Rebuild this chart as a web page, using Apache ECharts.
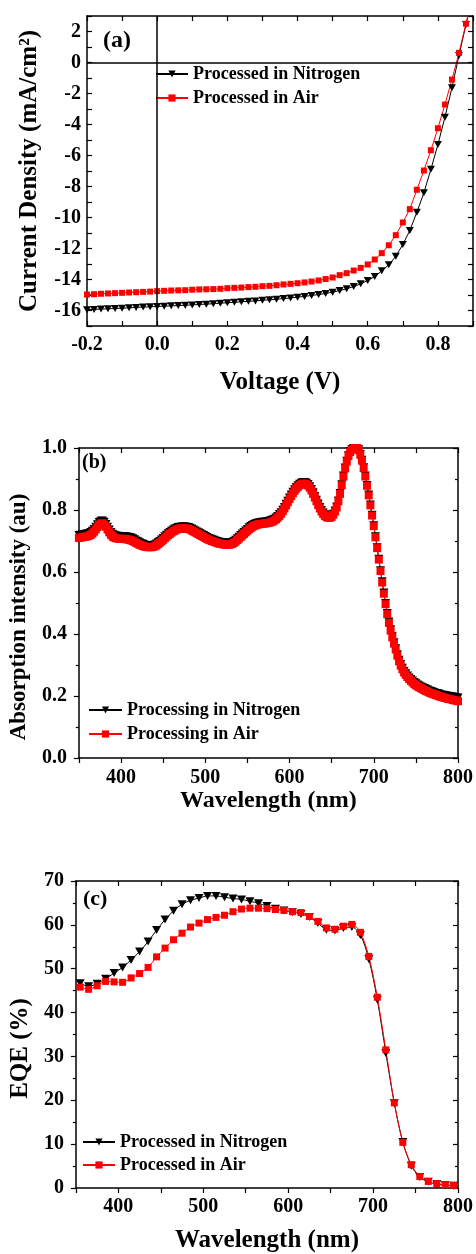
<!DOCTYPE html>
<html>
<head>
<meta charset="utf-8">
<title>Device characteristics</title>
<script src="https://cdn.jsdelivr.net/npm/echarts@6.0.0/dist/echarts.min.js"></script>
<style>
  html, body { margin: 0; padding: 0; background: #fff; }
  #chart { width: 476px; height: 1254px; }
</style>
</head>
<body>
<div id="chart"></div>
<script>
// (a) J-V curves
const voltage = [
  -0.20, -0.18, -0.16, -0.14, -0.12, -0.10, -0.08, -0.06, -0.04, -0.02,
  0.00, 0.02, 0.04, 0.06, 0.08, 0.10, 0.12, 0.14, 0.16, 0.18,
  0.20, 0.22, 0.24, 0.26, 0.28, 0.30, 0.32, 0.34, 0.36, 0.38,
  0.40, 0.42, 0.44, 0.46, 0.48, 0.50, 0.52, 0.54, 0.56, 0.58,
  0.60, 0.62, 0.64, 0.66, 0.68, 0.70, 0.72, 0.74, 0.76, 0.78,
  0.80, 0.82, 0.84, 0.86, 0.88, 0.90
];
const jvNitrogen = [
  -15.95, -15.93, -15.91, -15.89, -15.87, -15.85, -15.83, -15.80, -15.78, -15.76,
  -15.74, -15.72, -15.70, -15.68, -15.66, -15.64, -15.61, -15.59, -15.56, -15.53,
  -15.50, -15.47, -15.44, -15.41, -15.38, -15.34, -15.31, -15.27, -15.23, -15.19,
  -15.14, -15.09, -15.03, -14.97, -14.90, -14.82, -14.71, -14.60, -14.45, -14.28,
  -14.06, -13.81, -13.44, -13.05, -12.50, -11.74, -10.84, -9.66, -8.41, -6.89,
  -5.29, -3.53, -1.63, 0.45, 2.45, 4.45
];
const jvAir = [
  -14.97, -14.95, -14.92, -14.90, -14.88, -14.86, -14.84, -14.82, -14.80, -14.78,
  -14.75, -14.73, -14.71, -14.70, -14.69, -14.66, -14.64, -14.63, -14.62, -14.60,
  -14.56, -14.54, -14.52, -14.49, -14.47, -14.43, -14.41, -14.37, -14.32, -14.28,
  -14.24, -14.19, -14.13, -14.06, -13.97, -13.87, -13.72, -13.59, -13.42, -13.25,
  -13.03, -12.71, -12.30, -11.79, -11.14, -10.32, -9.46, -8.21, -6.97, -5.66,
  -4.24, -2.71, -1.10, 0.62, 2.50, 4.40
];

// (b) absorption, sampled every 2 nm from 350 nm
const absStart = 350, absStep = 2;
const absNitrogen = [
  0.719, 0.720, 0.721, 0.722, 0.723, 0.724, 0.726, 0.729, 0.733, 0.739,
  0.746, 0.754, 0.761, 0.765, 0.766, 0.762, 0.755, 0.746, 0.737, 0.729,
  0.723, 0.720, 0.718, 0.717, 0.716, 0.716, 0.716, 0.715, 0.715, 0.714,
  0.713, 0.711, 0.709, 0.706, 0.702, 0.699, 0.696, 0.693, 0.691, 0.689,
  0.687, 0.686, 0.686, 0.686, 0.687, 0.689, 0.692, 0.696, 0.700, 0.705,
  0.710, 0.715, 0.720, 0.725, 0.729, 0.733, 0.737, 0.740, 0.743, 0.745,
  0.746, 0.747, 0.747, 0.747, 0.746, 0.745, 0.743, 0.740, 0.737, 0.734,
  0.731, 0.728, 0.725, 0.722, 0.719, 0.716, 0.713, 0.710, 0.708, 0.706,
  0.704, 0.702, 0.700, 0.698, 0.697, 0.696, 0.695, 0.694, 0.694, 0.694,
  0.695, 0.697, 0.700, 0.704, 0.709, 0.714, 0.719, 0.724, 0.729, 0.734,
  0.739, 0.744, 0.748, 0.752, 0.755, 0.757, 0.759, 0.760, 0.761, 0.762,
  0.762, 0.763, 0.764, 0.765, 0.767, 0.769, 0.772, 0.776, 0.781, 0.787,
  0.793, 0.801, 0.810, 0.820, 0.830, 0.840, 0.850, 0.859, 0.867, 0.874,
  0.880, 0.885, 0.888, 0.890, 0.890, 0.888, 0.884, 0.877, 0.868, 0.857,
  0.845, 0.833, 0.821, 0.810, 0.800, 0.792, 0.786, 0.782, 0.780, 0.780,
  0.781, 0.788, 0.798, 0.811, 0.831, 0.855, 0.883, 0.911, 0.937, 0.959,
  0.977, 0.990, 0.997, 1.000, 1.000, 1.000, 0.996, 0.981, 0.962, 0.938,
  0.911, 0.881, 0.850, 0.818, 0.785, 0.751, 0.715, 0.680, 0.643, 0.606,
  0.570, 0.534, 0.500, 0.468, 0.440, 0.415, 0.393, 0.373, 0.354, 0.335,
  0.317, 0.303, 0.291, 0.281, 0.273, 0.266, 0.260, 0.255, 0.250, 0.245,
  0.241, 0.237, 0.234, 0.231, 0.228, 0.226, 0.223, 0.221, 0.218, 0.216,
  0.214, 0.212, 0.210, 0.209, 0.207, 0.205, 0.204, 0.203, 0.202, 0.201,
  0.200, 0.199, 0.198, 0.197, 0.196, 0.195
];
const absAir = [
  0.710, 0.711, 0.712, 0.713, 0.714, 0.715, 0.717, 0.720, 0.724, 0.730,
  0.737, 0.745, 0.752, 0.756, 0.757, 0.753, 0.746, 0.737, 0.728, 0.720,
  0.714, 0.711, 0.709, 0.708, 0.707, 0.707, 0.707, 0.706, 0.706, 0.705,
  0.704, 0.702, 0.700, 0.697, 0.694, 0.691, 0.688, 0.686, 0.684, 0.682,
  0.681, 0.680, 0.680, 0.680, 0.681, 0.683, 0.686, 0.690, 0.694, 0.699,
  0.704, 0.709, 0.714, 0.719, 0.723, 0.727, 0.731, 0.734, 0.737, 0.739,
  0.740, 0.741, 0.741, 0.741, 0.740, 0.739, 0.737, 0.734, 0.731, 0.728,
  0.725, 0.722, 0.719, 0.716, 0.713, 0.710, 0.707, 0.704, 0.702, 0.700,
  0.698, 0.696, 0.694, 0.692, 0.691, 0.690, 0.689, 0.688, 0.688, 0.688,
  0.689, 0.691, 0.694, 0.698, 0.703, 0.708, 0.713, 0.718, 0.723, 0.728,
  0.733, 0.738, 0.742, 0.746, 0.749, 0.751, 0.753, 0.754, 0.755, 0.756,
  0.756, 0.757, 0.758, 0.759, 0.761, 0.763, 0.766, 0.770, 0.775, 0.781,
  0.788, 0.796, 0.805, 0.815, 0.825, 0.835, 0.845, 0.854, 0.862, 0.869,
  0.875, 0.880, 0.883, 0.885, 0.885, 0.883, 0.879, 0.872, 0.863, 0.852,
  0.840, 0.828, 0.816, 0.805, 0.795, 0.787, 0.781, 0.777, 0.775, 0.775,
  0.778, 0.785, 0.795, 0.808, 0.828, 0.852, 0.880, 0.908, 0.934, 0.956,
  0.974, 0.987, 0.995, 0.999, 1.000, 1.000, 0.993, 0.978, 0.959, 0.935,
  0.908, 0.878, 0.847, 0.815, 0.782, 0.748, 0.712, 0.677, 0.640, 0.603,
  0.566, 0.530, 0.496, 0.464, 0.436, 0.411, 0.389, 0.369, 0.350, 0.330,
  0.312, 0.298, 0.286, 0.276, 0.268, 0.261, 0.255, 0.249, 0.244, 0.239,
  0.235, 0.231, 0.228, 0.225, 0.222, 0.219, 0.216, 0.214, 0.211, 0.209,
  0.207, 0.205, 0.203, 0.201, 0.199, 0.197, 0.196, 0.194, 0.193, 0.191,
  0.190, 0.189, 0.187, 0.186, 0.185, 0.183
];

// (c) EQE
const eqeWavelength = [
  355, 365, 375, 385, 395, 405, 415, 425, 435, 445,
  455, 465, 475, 485, 495, 505, 515, 525, 535, 545,
  555, 565, 575, 585, 595, 605, 615, 625, 635, 645,
  655, 665, 675, 685, 695, 705, 715, 725, 735, 745,
  755, 765, 775, 785, 795
];
const eqeNitrogen = [
  46.7, 46.0, 46.6, 47.7, 49.0, 50.3, 52.0, 53.9, 56.2, 58.8,
  61.2, 63.2, 64.7, 65.6, 66.1, 66.6, 66.6, 66.3, 66.0, 65.8,
  65.4, 64.9, 64.3, 63.7, 63.3, 62.9, 62.5, 61.8, 60.4, 58.9,
  58.7, 59.3, 59.5, 57.7, 52.2, 42.9, 30.8, 19.3, 10.5, 5.1,
  2.5, 1.4, 0.9, 0.6, 0.5
];
const eqeAir = [
  45.8, 45.3, 46.1, 47.1, 47.0, 46.9, 47.9, 48.9, 50.3, 52.7,
  54.7, 56.6, 58.1, 59.5, 60.4, 61.2, 61.7, 62.2, 63.0, 63.6,
  63.8, 63.8, 63.7, 63.5, 63.3, 63.0, 62.8, 61.9, 60.8, 59.3,
  59.0, 59.7, 60.1, 58.3, 52.8, 43.5, 31.5, 19.4, 10.4, 5.3,
  2.6, 1.5, 1.0, 0.75, 0.6
];

const absWavelength = absAir.map((_, i) => absStart + i * absStep);
const pairs = (xs, ys) => xs.map((x, i) => [x, ys[i]]);

const FONT = "'Liberation Serif', 'Times New Roman', serif";
const txt = (size) => ({ fontFamily: FONT, fontWeight: 'bold', fontSize: size, color: '#000' });
const BLACK = '#000000';
const RED = '#ff0000';

function axis(extra) {
  return Object.assign({
    type: 'value',
    splitLine: { show: false },
    axisLine: { show: true, onZero: false, lineStyle: { color: BLACK, width: 1.5 } },
    axisTick: { show: true, inside: true, length: 5, lineStyle: { color: BLACK, width: 1.2 } },
    axisLabel: { show: false },
  }, extra);
}
const minor = { show: true, splitNumber: 2, length: 3, lineStyle: { color: BLACK, width: 1.2 } };
const outTick = { show: true, inside: false, length: 5, lineStyle: { color: BLACK, width: 1.2 } };
const inTick = { show: true, inside: true, length: 5, lineStyle: { color: BLACK, width: 1.2 } };

const evenTenth = (v) => (Math.round(v * 10) % 2 === 0 ? v.toFixed(1) : '');
const evenInt = (v) => (Math.round(v) % 2 === 0 ? String(Math.round(v)) : '');
const hundreds = (v) => (Math.round(v) % 100 === 0 ? String(Math.round(v)) : '');

const chart = echarts.init(document.getElementById('chart'));

const option = {
  animation: false,
  backgroundColor: '#fff',
  title: [
    { text: '(a)', left: 103, top: 29, padding: 0, textStyle: txt(24) },
    { text: '(b)', left: 82, top: 453, padding: 0, textStyle: txt(20) },
    { text: '(c)', left: 83, top: 888, padding: 0, textStyle: txt(22) },
  ],
  legend: [
    {
      data: ['Processed in Nitrogen', 'Processed in Air'],
      orient: 'vertical', left: 155, top: 65, itemWidth: 32, itemHeight: 9, itemGap: 6,
      padding: 0, selectedMode: false, textStyle: txt(18),
    },
    {
      data: ['Processing in Nitrogen', 'Processing in Air'],
      orient: 'vertical', left: 88, top: 701, itemWidth: 33, itemHeight: 9, itemGap: 6,
      padding: 0, selectedMode: false, textStyle: txt(18),
    },
    {
      data: ['Processed in Nitrogen', 'Processed in Air'],
      orient: 'vertical', left: 82, top: 1133, itemWidth: 32, itemHeight: 9, itemGap: 5,
      padding: 0, selectedMode: false, textStyle: txt(18),
    },
  ],
  grid: [
    { left: 87, top: 16, width: 386, height: 310 },
    { left: 75, top: 448, width: 387, height: 310 },
    { left: 75, top: 881, width: 387, height: 310 },
  ],
  xAxis: [
    axis({
      gridIndex: 0, position: 'bottom', min: -0.2, max: 0.9, interval: 0.1,
      axisLabel: Object.assign({ show: true, margin: 9, formatter: evenTenth }, txt(20)),
      name: 'Voltage (V)', nameLocation: 'middle', nameGap: 44, nameTextStyle: txt(25),
    }),
    axis({ gridIndex: 0, position: 'top', min: -0.2, max: 0.9, interval: 0.1 }),
    axis({
      gridIndex: 1, position: 'bottom', min: 350, max: 800, interval: 50, axisTick: outTick,
      axisLabel: Object.assign({ show: true, margin: 10, formatter: hundreds }, txt(20)),
      name: 'Wavelength (nm)', nameLocation: 'middle', nameGap: 28, nameTextStyle: txt(24),
    }),
    axis({ gridIndex: 1, position: 'top', min: 350, max: 800, interval: 50 }),
    axis({
      gridIndex: 2, position: 'bottom', min: 350, max: 800, interval: 50, axisTick: outTick,
      axisLabel: Object.assign({ show: true, margin: 9, formatter: hundreds }, txt(20)),
      name: 'Wavelength (nm)', nameLocation: 'middle', nameGap: 40, nameTextStyle: txt(25),
    }),
    axis({ gridIndex: 2, position: 'top', min: 350, max: 800, interval: 50 }),
  ],
  yAxis: [
    axis({
      gridIndex: 0, position: 'left', min: -17, max: 3, interval: 1,
      axisLabel: Object.assign({ show: true, margin: 6, formatter: evenInt }, txt(20)),
      name: 'Current Density (mA/cm²)', nameLocation: 'middle', nameGap: 45, nameTextStyle: txt(25),
    }),
    axis({ gridIndex: 0, position: 'right', min: -17, max: 3, interval: 1 }),
    axis({
      gridIndex: 1, position: 'left', min: 0, max: 1, interval: 0.2, axisTick: outTick, minorTick: minor,
      axisLabel: Object.assign({ show: true, margin: 12, formatter: (v) => v.toFixed(1) }, txt(20)),
      name: 'Absorption intensity (au)', nameLocation: 'middle', nameGap: 42,
      nameTextStyle: Object.assign({ padding: [0, 28, 0, 0] }, txt(23)),
    }),
    axis({ gridIndex: 1, position: 'right', min: 0, max: 1, interval: 0.2, axisTick: inTick, minorTick: minor }),
    axis({
      gridIndex: 2, position: 'left', min: 0, max: 70, interval: 10, axisTick: outTick, minorTick: minor,
      axisLabel: Object.assign({ show: true, margin: 12 }, txt(20)),
      name: 'EQE (%)', nameLocation: 'middle', nameGap: 41,
      nameTextStyle: Object.assign({ padding: [0, 28, 0, 0] }, txt(25)),
    }),
    axis({ gridIndex: 2, position: 'right', min: 0, max: 70, interval: 10, axisTick: inTick, minorTick: minor }),
  ],
  series: [
    {
      name: 'Processed in Nitrogen', type: 'line', xAxisIndex: 0, yAxisIndex: 0,
      data: pairs(voltage, jvNitrogen),
      symbol: 'triangle', symbolRotate: 180, symbolSize: [8, 7],
      lineStyle: { color: BLACK, width: 1 }, itemStyle: { color: BLACK },
      markLine: {
        silent: true, symbol: ['none', 'none'], label: { show: false },
        lineStyle: { color: BLACK, width: 1.5, type: 'solid' },
        data: [{ xAxis: 0 }, { yAxis: 0 }],
      },
    },
    {
      name: 'Processed in Air', type: 'line', xAxisIndex: 0, yAxisIndex: 0,
      data: pairs(voltage, jvAir),
      symbol: 'rect', symbolSize: 6,
      lineStyle: { color: RED, width: 1 }, itemStyle: { color: RED },
    },
    {
      name: 'Processing in Nitrogen', type: 'line', xAxisIndex: 2, yAxisIndex: 2,
      data: pairs(absWavelength, absNitrogen),
      symbol: 'triangle', symbolRotate: 180, symbolSize: [9, 8],
      lineStyle: { color: BLACK, width: 1 }, itemStyle: { color: BLACK },
    },
    {
      name: 'Processing in Air', type: 'line', xAxisIndex: 2, yAxisIndex: 2,
      data: pairs(absWavelength, absAir),
      symbol: 'rect', symbolSize: 8,
      lineStyle: { color: RED, width: 1 }, itemStyle: { color: RED },
    },
    {
      name: 'Processed in Nitrogen', type: 'line', xAxisIndex: 4, yAxisIndex: 4,
      data: pairs(eqeWavelength, eqeNitrogen), smooth: 0.3,
      symbol: 'triangle', symbolRotate: 180, symbolSize: [9, 8],
      lineStyle: { color: BLACK, width: 1 }, itemStyle: { color: BLACK },
    },
    {
      name: 'Processed in Air', type: 'line', xAxisIndex: 4, yAxisIndex: 4,
      data: pairs(eqeWavelength, eqeAir), smooth: 0.3,
      symbol: 'rect', symbolSize: 7,
      lineStyle: { color: RED, width: 1 }, itemStyle: { color: RED },
    },
  ],
};

chart.setOption(option);
</script>
</body>
</html>
